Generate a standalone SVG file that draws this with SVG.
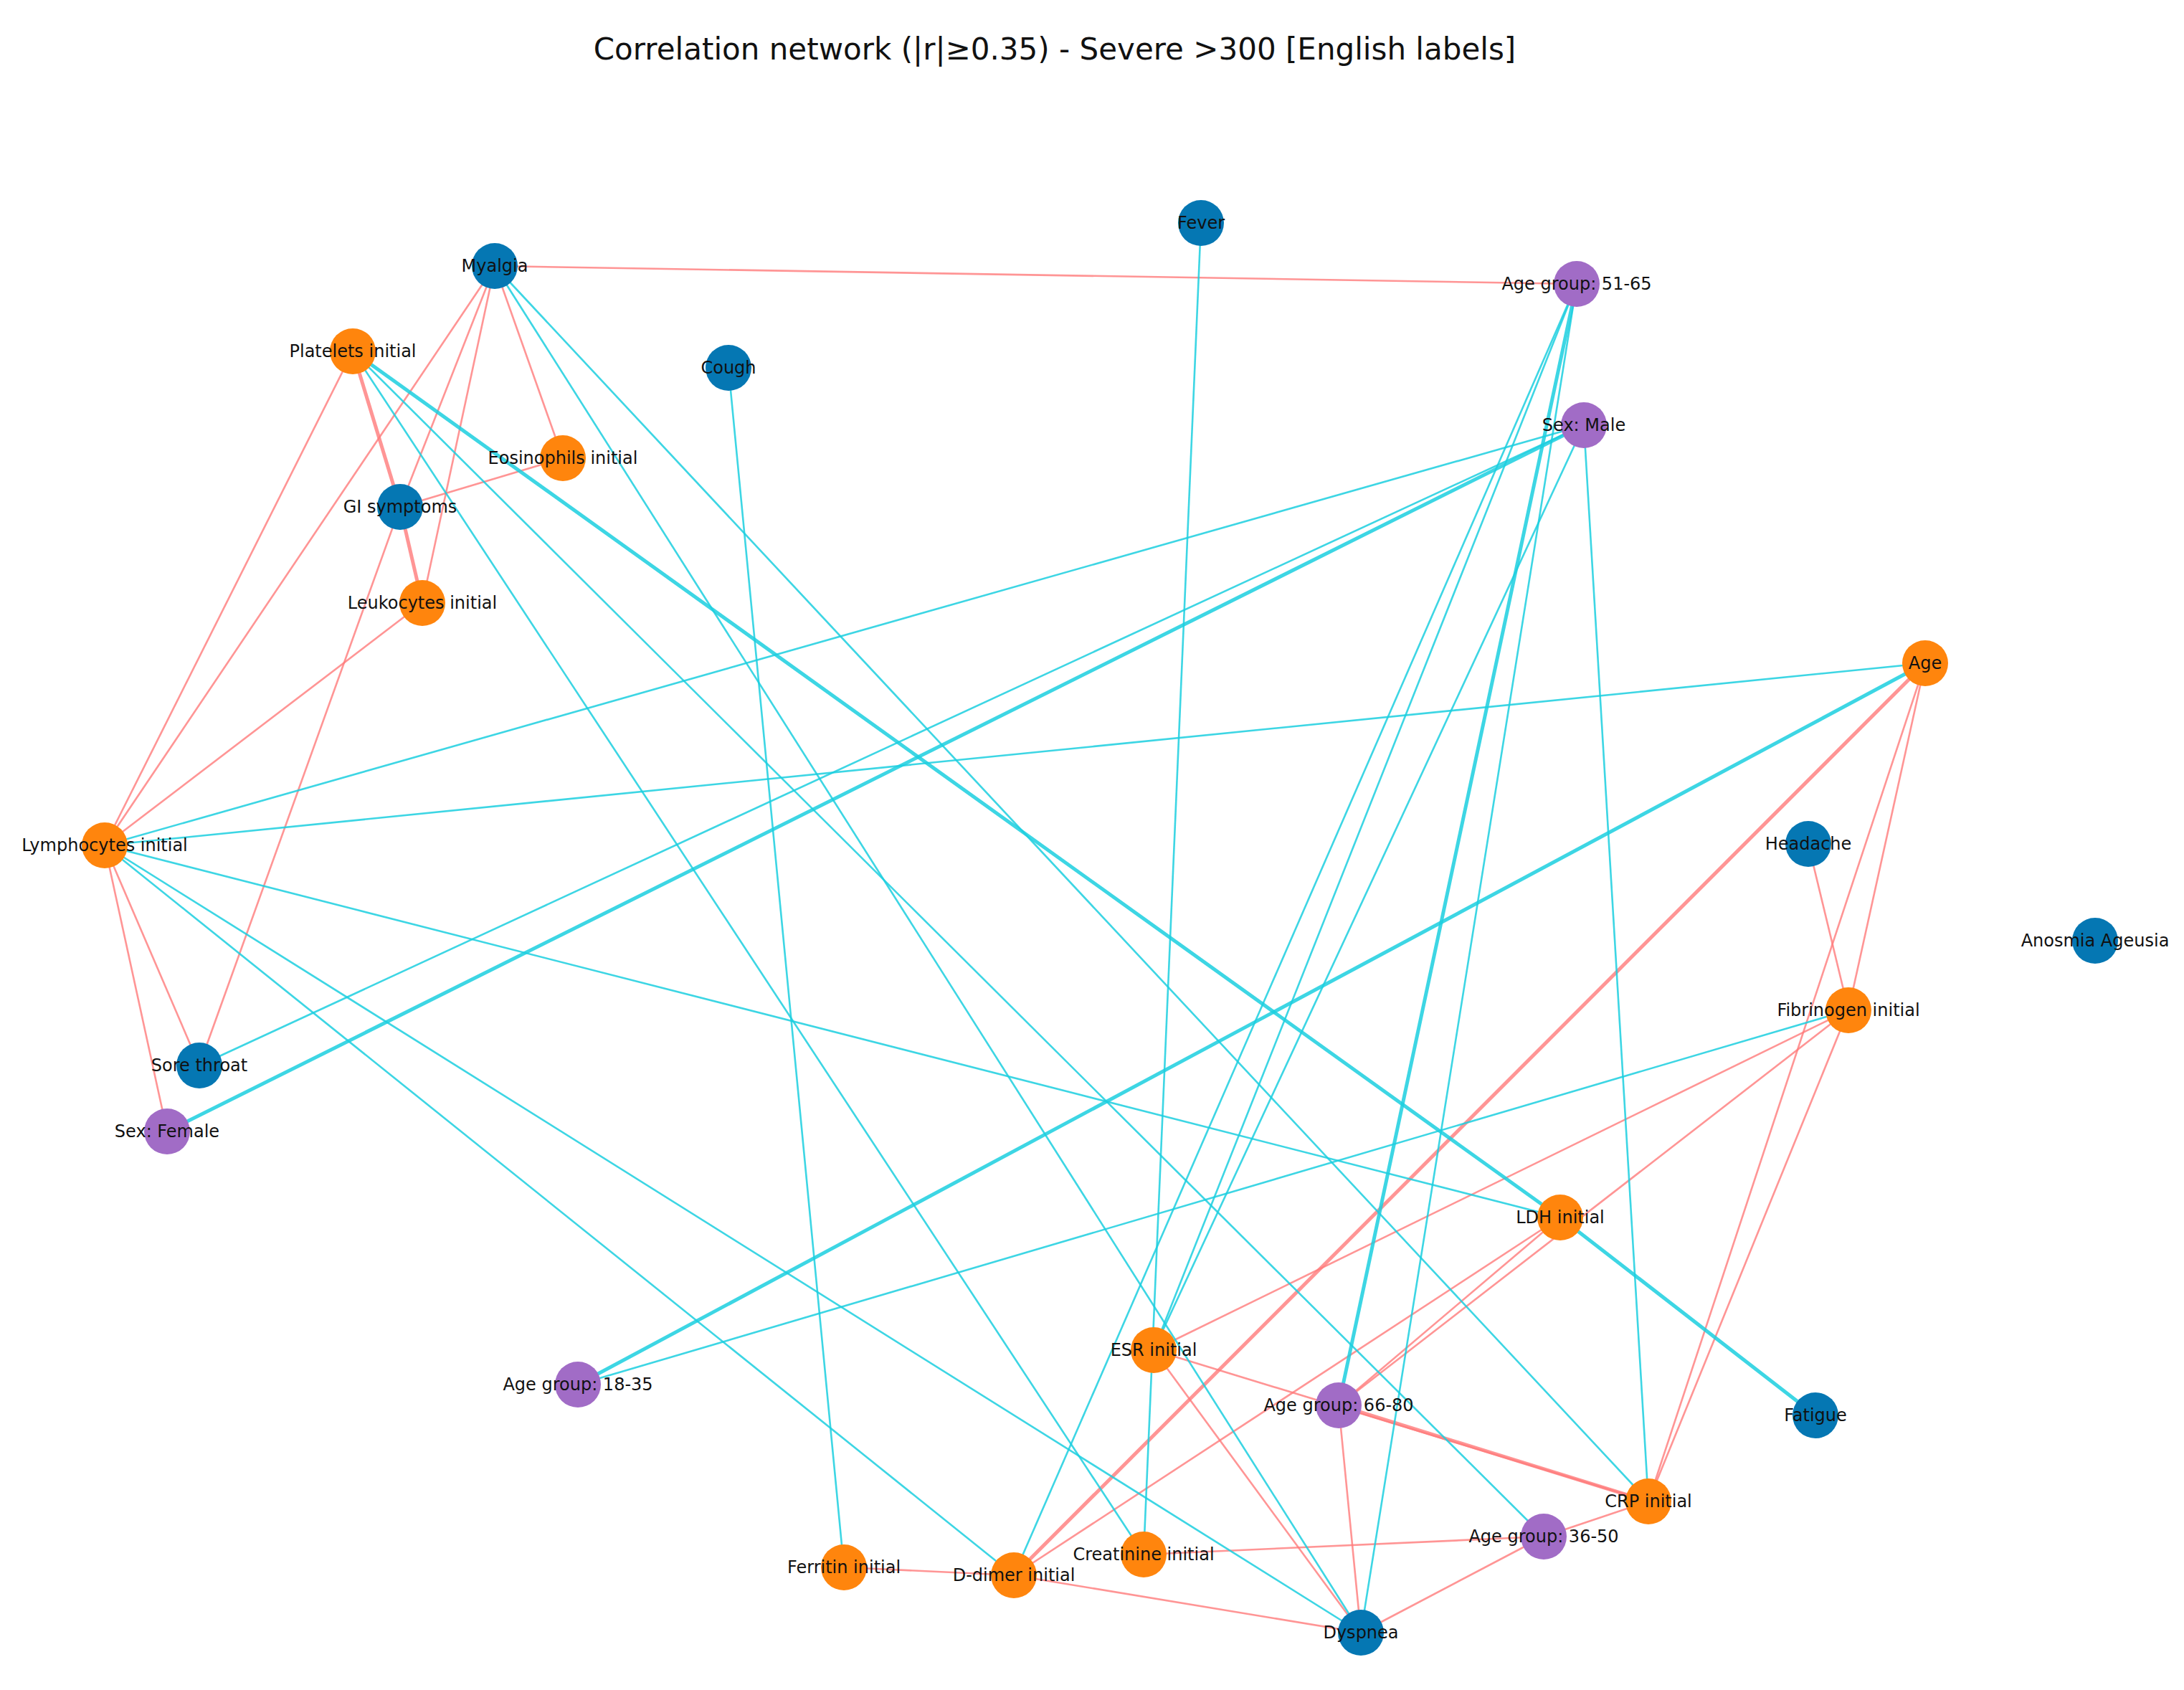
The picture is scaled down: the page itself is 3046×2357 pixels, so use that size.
<svg xmlns="http://www.w3.org/2000/svg" width="3046" height="2357" viewBox="0 0 3046 2357">
<style>
.p{stroke:#ff7b7b;stroke-width:2.6;opacity:0.8}
.n{stroke:#1ccfe0;stroke-width:2.6;opacity:0.85}
.t{stroke-width:5}
.b{fill:#0577b3}.o{fill:#ff850d}.v{fill:#a16cc6}
text{font-family:"DejaVu Sans",sans-serif;font-size:24px;fill:#111;text-anchor:middle;dominant-baseline:central}
.title{font-size:42px}
</style>
<rect width="3046" height="2357" fill="#fff"/>
<text class="title" x="1471" y="68">Correlation network (|r|≥0.35) - Severe &gt;300 [English labels]</text>
<g id="edges">
<line class="p" x1="690" y1="371" x2="2199" y2="396"/>
<line class="p" x1="690" y1="371" x2="785" y2="639"/>
<line class="p" x1="690" y1="371" x2="146" y2="1179"/>
<line class="p" x1="690" y1="371" x2="558" y2="707"/>
<line class="p" x1="690" y1="371" x2="589" y2="841"/>
<line class="p" x1="558" y1="707" x2="278" y2="1486"/>
<line class="p" x1="492" y1="490" x2="146" y2="1179"/>
<line class="p t" x1="492" y1="490" x2="558" y2="707"/>
<line class="p t" x1="558" y1="707" x2="589" y2="841"/>
<line class="p" x1="558" y1="707" x2="785" y2="639"/>
<line class="p" x1="589" y1="841" x2="146" y2="1179"/>
<line class="p" x1="146" y1="1179" x2="278" y2="1486"/>
<line class="p" x1="146" y1="1179" x2="233" y2="1578"/>
<line class="p" x1="2685" y1="925" x2="2578" y2="1409"/>
<line class="p" x1="2685" y1="925" x2="2299" y2="2094"/>
<line class="p t" x1="2685" y1="925" x2="1414" y2="2197"/>
<line class="p" x1="2522" y1="1177" x2="2578" y2="1409"/>
<line class="p" x1="2578" y1="1409" x2="1609" y2="1883"/>
<line class="p" x1="2578" y1="1409" x2="1867" y2="1960"/>
<line class="p" x1="2578" y1="1409" x2="2299" y2="2094"/>
<line class="p" x1="2176" y1="1698" x2="1414" y2="2197"/>
<line class="p" x1="2176" y1="1698" x2="1867" y2="1960"/>
<line class="p" x1="1609" y1="1883" x2="2299" y2="2094"/>
<line class="p" x1="1609" y1="1883" x2="1898" y2="2277"/>
<line class="p t" x1="1867" y1="1960" x2="2299" y2="2094"/>
<line class="p" x1="1867" y1="1960" x2="1898" y2="2277"/>
<line class="p" x1="1177" y1="2186" x2="1414" y2="2197"/>
<line class="p" x1="1414" y1="2197" x2="1898" y2="2277"/>
<line class="p" x1="1595" y1="2168" x2="2153" y2="2143"/>
<line class="p" x1="2153" y1="2143" x2="1898" y2="2277"/>
<line class="p" x1="2153" y1="2143" x2="2299" y2="2094"/>
<line class="n" x1="1675" y1="311" x2="1595" y2="2168"/>
<line class="n" x1="1016" y1="513" x2="1177" y2="2186"/>
<line class="n" x1="690" y1="371" x2="1898" y2="2277"/>
<line class="n" x1="690" y1="371" x2="2299" y2="2094"/>
<line class="n t" x1="492" y1="490" x2="2176" y2="1698"/>
<line class="n" x1="492" y1="490" x2="1595" y2="2168"/>
<line class="n" x1="492" y1="490" x2="2153" y2="2143"/>
<line class="n t" x1="2199" y1="396" x2="1867" y2="1960"/>
<line class="n" x1="2199" y1="396" x2="1898" y2="2277"/>
<line class="n" x1="2199" y1="396" x2="1609" y2="1883"/>
<line class="n" x1="2199" y1="396" x2="1414" y2="2197"/>
<line class="n t" x1="2209" y1="593" x2="233" y2="1578"/>
<line class="n" x1="2209" y1="593" x2="146" y2="1179"/>
<line class="n" x1="2209" y1="593" x2="278" y2="1486"/>
<line class="n" x1="2209" y1="593" x2="2299" y2="2094"/>
<line class="n" x1="2209" y1="593" x2="1609" y2="1883"/>
<line class="n" x1="2685" y1="925" x2="146" y2="1179"/>
<line class="n t" x1="2685" y1="925" x2="806" y2="1931"/>
<line class="n" x1="146" y1="1179" x2="2176" y2="1698"/>
<line class="n" x1="146" y1="1179" x2="1898" y2="2277"/>
<line class="n" x1="146" y1="1179" x2="1414" y2="2197"/>
<line class="n t" x1="2176" y1="1698" x2="2532" y2="1974"/>
<line class="n" x1="2578" y1="1409" x2="806" y2="1931"/>
</g>
<g id="n-fever"><circle class="b" cx="1675" cy="311" r="32"/><text x="1675" y="311">Fever</text></g>
<g id="n-myalgia"><circle class="b" cx="690" cy="371" r="32"/><text x="690" y="371">Myalgia</text></g>
<g id="n-ag51"><circle class="v" cx="2199" cy="396" r="32"/><text x="2199" y="396">Age group: 51-65</text></g>
<g id="n-platelets"><circle class="o" cx="492" cy="490" r="32"/><text x="492" y="490">Platelets initial</text></g>
<g id="n-cough"><circle class="b" cx="1016" cy="513" r="32"/><text x="1016" y="513">Cough</text></g>
<g id="n-male"><circle class="v" cx="2209" cy="593" r="32"/><text x="2209" y="593">Sex: Male</text></g>
<g id="n-eos"><circle class="o" cx="785" cy="639" r="32"/><text x="785" y="639">Eosinophils initial</text></g>
<g id="n-gi"><circle class="b" cx="558" cy="707" r="32"/><text x="558" y="707">GI symptoms</text></g>
<g id="n-leuk"><circle class="o" cx="589" cy="841" r="32"/><text x="589" y="841">Leukocytes initial</text></g>
<g id="n-age"><circle class="o" cx="2685" cy="925" r="32"/><text x="2685" y="925">Age</text></g>
<g id="n-lymph"><circle class="o" cx="146" cy="1179" r="32"/><text x="146" y="1179">Lymphocytes initial</text></g>
<g id="n-headache"><circle class="b" cx="2522" cy="1177" r="32"/><text x="2522" y="1177">Headache</text></g>
<g id="n-anosmia"><circle class="b" cx="2922" cy="1312" r="32"/><text x="2922" y="1312">Anosmia Ageusia</text></g>
<g id="n-fib"><circle class="o" cx="2578" cy="1409" r="32"/><text x="2578" y="1409">Fibrinogen initial</text></g>
<g id="n-sore"><circle class="b" cx="278" cy="1486" r="32"/><text x="278" y="1486">Sore throat</text></g>
<g id="n-female"><circle class="v" cx="233" cy="1578" r="32"/><text x="233" y="1578">Sex: Female</text></g>
<g id="n-ldh"><circle class="o" cx="2176" cy="1698" r="32"/><text x="2176" y="1698">LDH initial</text></g>
<g id="n-esr"><circle class="o" cx="1609" cy="1883" r="32"/><text x="1609" y="1883">ESR initial</text></g>
<g id="n-ag18"><circle class="v" cx="806" cy="1931" r="32"/><text x="806" y="1931">Age group: 18-35</text></g>
<g id="n-ag66"><circle class="v" cx="1867" cy="1960" r="32"/><text x="1867" y="1960">Age group: 66-80</text></g>
<g id="n-fatigue"><circle class="b" cx="2532" cy="1974" r="32"/><text x="2532" y="1974">Fatigue</text></g>
<g id="n-crp"><circle class="o" cx="2299" cy="2094" r="32"/><text x="2299" y="2094">CRP initial</text></g>
<g id="n-ag36"><circle class="v" cx="2153" cy="2143" r="32"/><text x="2153" y="2143">Age group: 36-50</text></g>
<g id="n-creat"><circle class="o" cx="1595" cy="2168" r="32"/><text x="1595" y="2168">Creatinine initial</text></g>
<g id="n-ferritin"><circle class="o" cx="1177" cy="2186" r="32"/><text x="1177" y="2186">Ferritin initial</text></g>
<g id="n-ddimer"><circle class="o" cx="1414" cy="2197" r="32"/><text x="1414" y="2197">D-dimer initial</text></g>
<g id="n-dyspnea"><circle class="b" cx="1898" cy="2277" r="32"/><text x="1898" y="2277">Dyspnea</text></g>
</svg>
